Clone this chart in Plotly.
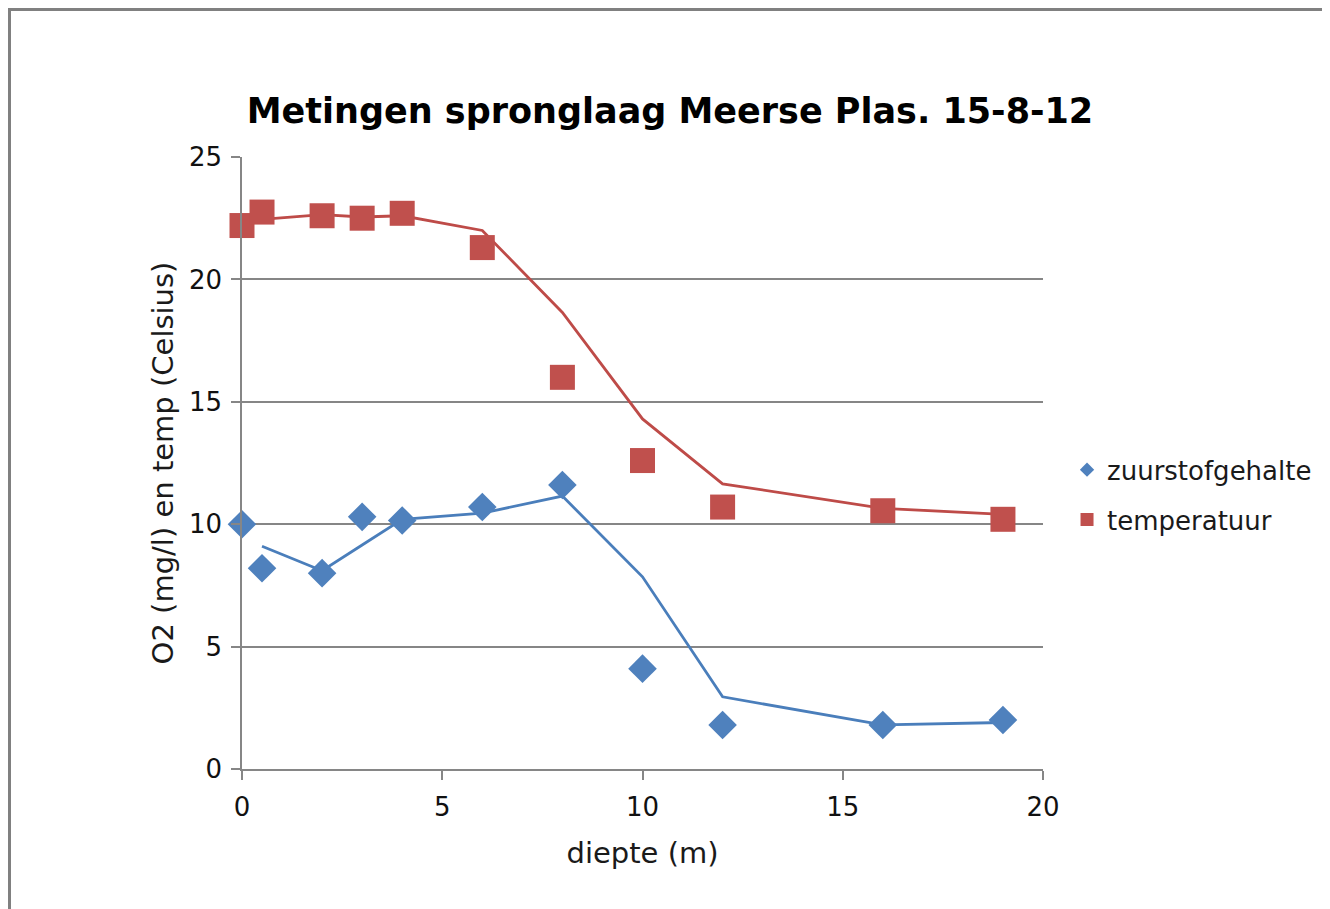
import plotly.graph_objects as go

# Data
depth = [0, 0.5, 2, 3, 4, 6, 8, 10, 12, 16, 19]
o2 = [10.0, 8.2, 8.0, 10.3, 10.15, 10.7, 11.6, 4.1, 1.8, 1.8, 2.0]
temp = [22.2, 22.75, 22.6, 22.5, 22.7, 21.3, 16.0, 12.6, 10.7, 10.55, 10.2]

# Trend lines (2-point moving average as drawn in the picture)
trend_depth = [0.5, 2, 3, 4, 6, 8, 10, 12, 16, 19]
o2_trend = [9.1, 8.1, 9.15, 10.2, 10.45, 11.15, 7.85, 2.95, 1.8, 1.9]
temp_trend = [22.45, 22.65, 22.55, 22.6, 22.0, 18.65, 14.3, 11.65, 10.65, 10.4]

series_names = ["zuurstofgehalte", "temperatuur"]
x_ticks = [0, 5, 10, 15, 20]
y_ticks = [0, 5, 10, 15, 20, 25]

BLUE = "#4F81BD"
RED = "#C0504D"
BLUE_LINE = "#4A7EBB"
RED_LINE = "#BE4B48"
GRID = "#868686"
FONT = "DejaVu Sans, Verdana, sans-serif"

# page body has an 8px margin; figure coordinates are offset by it
L, T = 234, 149
PW, PH = 801, 612
W, H = 1330, 909

fig = go.Figure()

# trend lines
fig.add_trace(go.Scatter(x=trend_depth, y=o2_trend, mode="lines",
                         line=dict(color=BLUE_LINE, width=2.8), showlegend=False,
                         hoverinfo="skip"))
fig.add_trace(go.Scatter(x=trend_depth, y=temp_trend, mode="lines",
                         line=dict(color=RED_LINE, width=2.8), showlegend=False,
                         hoverinfo="skip"))

# markers
fig.add_trace(go.Scatter(x=depth, y=o2, mode="markers", name=series_names[0],
                         marker=dict(symbol="diamond", size=22, color=BLUE,
                                     line=dict(width=0)),
                         cliponaxis=False, showlegend=False))
fig.add_trace(go.Scatter(x=depth, y=temp, mode="markers", name=series_names[1],
                         marker=dict(symbol="square", size=25, color=RED,
                                     line=dict(width=0)),
                         cliponaxis=False, showlegend=False))

# legend entries (small markers as in the reference)
fig.add_trace(go.Scatter(x=[None], y=[None], mode="markers", name=series_names[0],
                         marker=dict(symbol="diamond", size=11, color=BLUE),
                         legendgroup="a"))
fig.add_trace(go.Scatter(x=[None], y=[None], mode="markers", name=series_names[1],
                         marker=dict(symbol="square", size=13, color=RED),
                         legendgroup="b"))

fig.update_layout(
    width=W, height=H,
    paper_bgcolor="white", plot_bgcolor="white",
    margin=dict(l=L, r=W - L - PW, t=T, b=H - T - PH, autoexpand=False),
    font=dict(family=FONT, color="#1a1a1a"),
    title=dict(text="<b>Metingen spronglaag Meerse Plas. 15-8-12</b>",
               font=dict(family=FONT, size=35, color="black"),
               x=(670 - 8) / W, xref="container", xanchor="center",
               y=1 - (111 - 8) / H, yref="container", yanchor="middle"),
    legend=dict(x=1.030, y=0.448, xanchor="left", yanchor="middle",
                font=dict(family=FONT, size=26, color="#1a1a1a"),
                tracegroupgap=13, bgcolor="rgba(0,0,0,0)",
                itemsizing="trace"),
    xaxis=dict(range=[0, 20], tickvals=x_ticks, ticktext=[str(v) for v in x_ticks],
               showgrid=False, zeroline=False,
               showline=True, linecolor=GRID, linewidth=1.5,
               ticks="outside", ticklen=9, tickwidth=1.5, tickcolor=GRID,
               ticklabelstandoff=5,
               tickfont=dict(family=FONT, size=26, color="#111111"),
               title=dict(text="diepte (m)", font=dict(family=FONT, size=29, color="#1a1a1a"),
                          standoff=22),
               automargin=False),
    yaxis=dict(range=[0, 25], tickvals=y_ticks, ticktext=[str(v) for v in y_ticks],
               showgrid=True, gridcolor=GRID, gridwidth=1.5, zeroline=False,
               showline=True, linecolor=GRID, linewidth=1.5,
               ticks="outside", ticklen=9, tickwidth=1.5, tickcolor=GRID,
               ticklabelstandoff=4,
               tickfont=dict(family=FONT, size=26, color="#111111"),
               title=dict(text="O2 (mg/l) en temp (Celsius)",
                          font=dict(family=FONT, size=29, color="#1a1a1a"),
                          standoff=7),
               automargin=False),
)

# window frame decorations (gray border at top and left)
def px_x(fx):
    return (fx - L) / PW


def px_y(fy):
    return (T + PH - fy) / PH


fig.add_shape(type="rect", xref="paper", yref="paper",
              x0=px_x(0), x1=px_x(W), y0=px_y(0), y1=px_y(3),
              fillcolor="#808080", line=dict(width=0), layer="above")
fig.add_shape(type="rect", xref="paper", yref="paper",
              x0=px_x(0), x1=px_x(3), y0=px_y(0), y1=px_y(H),
              fillcolor="#808080", line=dict(width=0), layer="above")

fig.write_html("out.html")
